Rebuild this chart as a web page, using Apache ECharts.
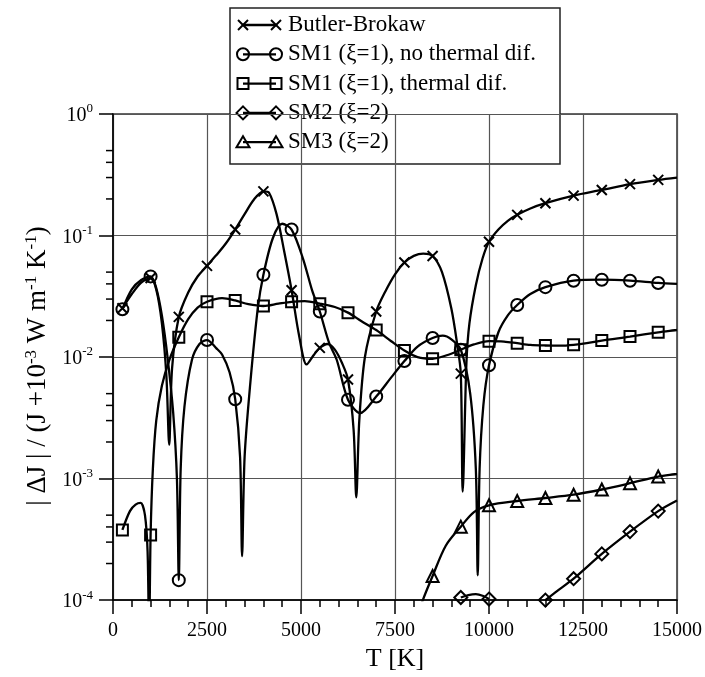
<!DOCTYPE html>
<html><head><meta charset="utf-8">
<script src="https://cdn.jsdelivr.net/npm/echarts@6/dist/echarts.min.js"></script>
<style>html,body{margin:0;padding:0;background:#fff}#c{width:705px;height:677px}</style>
</head><body><div id="c"></div>
<script>
// marker temperatures (symbols drawn every 750 K)
const markerT = [250,1000,1750,2500,3250,4000,4750,5500,6250,7000,7750,8500,9250,10000,10750,11500,12250,13000,13750,14500];
const xTicks = [0,2500,5000,7500,10000,12500,15000];
const yMinor = [2e-4,3e-4,4e-4,5e-4,2e-3,3e-3,4e-3,5e-3,2e-2,3e-2,4e-2,5e-2,2e-1,3e-1,4e-1,5e-1];

// Butler-Brokaw
const bbT = [250,500,750,1000,1150,1300,1420,1495,1570,1750,2000,2250,2500,2750,3000,3250,3500,3750,4000,4150,4350,4550,4750,4950,5150,5350,5500,5700,5900,6100,6250,6400,6470,6550,6700,7000,7250,7500,7750,8000,8250,8500,8750,9000,9150,9250,9300,9400,9480,9650,9830,10000,10250,10500,10750,11100,11500,12250,13000,13750,14500,15000];
const bbV = [0.0252,0.033,0.041,0.0447,0.036,0.019,0.007,0.0019,0.008,0.0214,0.034,0.046,0.0563,0.069,0.086,0.112,0.15,0.198,0.231,0.225,0.15,0.075,0.0355,0.015,0.0087,0.0105,0.0119,0.0128,0.0115,0.0088,0.00653,0.0025,0.0007,0.003,0.010,0.0237,0.035,0.048,0.060,0.068,0.071,0.0679,0.05,0.025,0.013,0.0073,0.00078,0.009,0.019,0.039,0.065,0.0889,0.112,0.132,0.148,0.167,0.1845,0.213,0.237,0.265,0.287,0.300];

// SM1 (xi=1), no thermal diffusion
const s1T = [250,500,750,1000,1150,1300,1450,1600,1700,1750,1800,1900,2100,2300,2500,2750,2900,3100,3250,3380,3433,3500,3650,3850,4000,4250,4500,4750,5050,5300,5500,5750,5950,6250,6575,7000,7400,7750,8100,8500,8770,9000,9250,9500,9650,9700,9750,9850,10000,10250,10500,10750,11100,11500,12250,13000,13750,14500,15000];
const s1V = [0.0247,0.036,0.043,0.0461,0.037,0.022,0.010,0.0035,0.001,0.000146,0.0012,0.0039,0.0095,0.0128,0.0138,0.0118,0.0105,0.0075,0.0045,0.0015,0.00023,0.0015,0.006,0.025,0.0475,0.095,0.125,0.112,0.065,0.035,0.0237,0.013,0.0095,0.00445,0.00346,0.00473,0.0068,0.00927,0.0122,0.01435,0.0150,0.014,0.0115,0.005,0.0012,0.00016,0.0012,0.004,0.00855,0.016,0.022,0.0268,0.033,0.0376,0.0425,0.0433,0.0425,0.0407,0.040];

// SM1 (xi=1), thermal diffusion
const s1tT = [250,450,600,735,850,920,960,1000,1060,1150,1300,1500,1750,2000,2250,2500,2900,3250,3600,4000,4400,4750,5100,5500,5900,6250,6600,7000,7400,7750,8100,8500,8900,9250,9600,10000,10400,10750,11100,11500,11900,12250,12600,13000,13750,14500,15000];
const s1tV = [3.78e-4,5.4e-4,6.1e-4,6.3e-4,5.0e-4,2.5e-4,5e-5,3.44e-4,0.0012,0.003,0.0058,0.0095,0.01455,0.0205,0.0255,0.0285,0.0305,0.0292,0.0272,0.0263,0.0275,0.0285,0.0288,0.0275,0.0258,0.0232,0.0198,0.01667,0.0135,0.01133,0.0100,0.00968,0.0104,0.0115,0.0127,0.0135,0.0134,0.0130,0.0126,0.01245,0.0124,0.0126,0.0130,0.01367,0.01473,0.01597,0.0167];

// SM2 (xi=2)
const s2T = [9250,9450,9650,9850,10000,10750,11500,11800,12250,13000,13750,14500,15000];
const s2V = [1.05e-4,1.1e-4,1.12e-4,1.08e-4,1.02e-4,'-',1.0e-4,1.18e-4,1.5e-4,2.4e-4,3.66e-4,5.4e-4,6.6e-4];

// SM3 (xi=2)
const s3T = [8150,8240,8500,8850,9250,9600,10000,10750,11500,12250,13000,13750,14500,15000];
const s3V = [8e-5,1.0e-4,1.58e-4,2.8e-4,4.02e-4,5.3e-4,6.03e-4,6.54e-4,6.92e-4,7.37e-4,8.13e-4,9.16e-4,1.04e-3,1.09e-3];

const names = ['Butler-Brokaw','SM1 (\u03BE=1), no thermal dif.','SM1 (\u03BE=1), thermal dif.','SM2 (\u03BE=2)','SM3 (\u03BE=2)'];
const crossPath = 'path://M0,0L10,10M10,0L0,10';
const symbols = [crossPath,'circle','rect','diamond','triangle'];
const symSizes = [10,12,11,13,12];

function buildData(Ts, Vs){
  return Ts.map((t,i)=>{
    const v = Vs[i];
    const it = {value:[t,v]};
    if (v === '-' || markerT.indexOf(t) < 0 || v < 1e-4) it.symbol = 'none';
    return it;
  });
}
const sets = [[bbT,bbV],[s1T,s1V],[s1tT,s1tV],[s2T,s2V],[s3T,s3V]];

const FONT = 'Liberation Serif';
const series = sets.map((s,k)=>({
  name: names[k], type:'line', data: buildData(s[0],s[1]),
  smooth: 0.3, showSymbol:true, showAllSymbol:true,
  symbol: symbols[k], symbolSize: symSizes[k], connectNulls:false,
  lineStyle:{color:'#000', width:2.3},
  itemStyle:{color:'rgba(255,255,255,0)', borderColor:'#000', borderWidth:2},
  emphasis:{disabled:true}, animation:false, z:3
}));
series.push({
  type:'custom', silent:true, animation:false, clip:false,
  data: yMinor.map(v=>[0,v]),
  renderItem:(p,api)=>{ const c = api.coord([0, api.value(1)]);
    return {type:'line', shape:{x1:c[0]-7,y1:c[1],x2:c[0],y2:c[1]}, style:{stroke:'#000',lineWidth:1.5}}; }
});

// custom legend box
const lx1 = 243, lx2 = 276, ltx = 288, ly0 = 25, ldy = 29.3;
function sym(k, x, y){
  const st = {fill:'none', stroke:'#000', lineWidth:2};
  if (k===0) return [{type:'line',shape:{x1:x-5,y1:y-5,x2:x+5,y2:y+5},style:st},{type:'line',shape:{x1:x+5,y1:y-5,x2:x-5,y2:y+5},style:st}];
  if (k===1) return [{type:'circle',shape:{cx:x,cy:y,r:6},style:st}];
  if (k===2) return [{type:'rect',shape:{x:x-5.5,y:y-5.5,width:11,height:11},style:st}];
  if (k===3) return [{type:'polygon',shape:{points:[[x,y-6.5],[x+6.5,y],[x,y+6.5],[x-6.5,y]]},style:st}];
  return [{type:'polygon',shape:{points:[[x,y-6],[x+6.5,y+5],[x-6.5,y+5]]},style:st}];
}
const legendChildren = [{type:'rect', shape:{x:230,y:8,width:330,height:156}, style:{fill:'#fff',stroke:'#222',lineWidth:1.5}}];
names.forEach((n,k)=>{
  const y = ly0 + k*ldy;
  legendChildren.push({type:'line',shape:{x1:lx1,y1:y,x2:lx2,y2:y},style:{stroke:'#000',lineWidth:2.3}});
  sym(k,lx1,y).forEach(e=>legendChildren.push(e));
  sym(k,lx2,y).forEach(e=>legendChildren.push(e));
  legendChildren.push({type:'text', x:ltx, y:y, style:{text:n, font:'23px "Liberation Serif"', fill:'#000', verticalAlign:'middle', align:'left'}});
});

const chart = echarts.init(document.getElementById('c'), null, {renderer:'canvas'});
chart.setOption({
  animation:false,
  backgroundColor:'#fff',
  grid:{left:113, right:27, top:114, bottom:71, show:true, borderColor:'#333', borderWidth:1.5, containLabel:false},
  xAxis:{
    type:'value', min:xTicks[0], max:xTicks[xTicks.length-1], interval:2500,
    name:'T [K]', nameLocation:'middle', nameGap:35,
    nameTextStyle:{fontFamily:FONT, fontSize:26, color:'#000'},
    axisLine:{lineStyle:{color:'#000', width:1.5}},
    axisTick:{show:true, length:14, lineStyle:{color:'#000', width:1.5}},
    minorTick:{show:true, splitNumber:5, length:7, lineStyle:{color:'#000', width:1.5}},
    splitLine:{show:true, lineStyle:{color:'#555', width:1.2}},
    axisLabel:{fontFamily:FONT, fontSize:20, color:'#000', margin:21, formatter:(v)=>String(v)}
  },
  yAxis:{
    type:'log', logBase:10, min:1e-4, max:1, interval:1,
    name:'{t|| \u0394J | / (J +10}{u|-3}{t| W m}{u|-1}{t| K}{u|-1}{t|)}',
    nameLocation:'middle', nameGap:60, nameRotate:90,
    nameTextStyle:{fontFamily:FONT, color:'#000', padding:[0,18,0,0], rich:{
      t:{fontFamily:FONT, fontSize:27, color:'#000'},
      u:{fontFamily:FONT, fontSize:17, color:'#000', padding:[0,0,12,0]}
    }},
    axisLine:{lineStyle:{color:'#000', width:1.5}},
    axisTick:{show:true, length:14, lineStyle:{color:'#000', width:1.5}},
    splitLine:{show:true, lineStyle:{color:'#555', width:1.2}},
    axisLabel:{margin:20, formatter:(v)=>{ const e = Math.round(Math.log10(v)); return '{b|10}{s|'+e+'}'; },
      rich:{ b:{fontFamily:FONT, fontSize:20, color:'#000', padding:[4,0,0,0]}, s:{fontFamily:FONT, fontSize:13, color:'#000', padding:[0,0,10,0]} } }
  },
  graphic:[{type:'group', z:100, children: legendChildren}],
  series: series
});
</script></body></html>
